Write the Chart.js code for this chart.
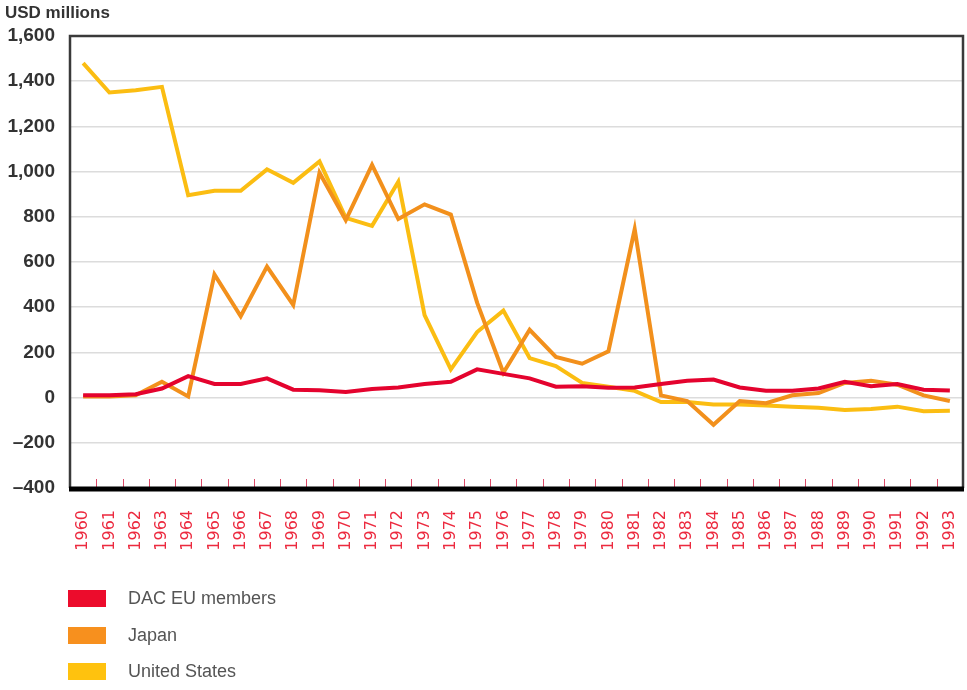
<!DOCTYPE html>
<html>
<head>
<meta charset="utf-8">
<script src="https://cdn.jsdelivr.net/npm/chart.js@4/dist/chart.umd.min.js"></script>
<style>
  body { margin: 0; background: #fff; }
  #wrap { position: relative; width: 967px; height: 690px; }
  #unit {
    position: absolute; left: 5px; top: 3px;
    font: bold 17px/20px "Liberation Sans", Arial, sans-serif;
    color: #333;
  }
  #legend { position: absolute; left: 68px; top: 590px; }
  .item { display: flex; align-items: center; height: 17px; margin-bottom: 19.5px; }
  .item span.box { width: 38px; height: 17px; margin-right: 22px; }
  .item span.txt {
    font: 18px/17px "Liberation Sans", Arial, sans-serif;
    color: #555;
  }
</style>
</head>
<body>
<div id="wrap">
  <canvas id="chart" width="967" height="690"></canvas>
  <div id="unit">USD millions</div>
  <div id="legend"></div>
</div>
<script>
const years = ['1960','1961','1962','1963','1964','1965','1966','1967','1968','1969',
  '1970','1971','1972','1973','1974','1975','1976','1977','1978','1979',
  '1980','1981','1982','1983','1984','1985','1986','1987','1988','1989',
  '1990','1991','1992','1993'];

const dacEU = [10, 10, 15, 40, 95, 60, 60, 85, 35, 33,
  25, 38, 45, 60, 70, 125, 105, 85, 48, 50,
  44, 45, 60, 75, 80, 45, 30, 30, 40, 70,
  50, 60, 35, 31];

const japan = [5, 5, 10, 70, 5, 545, 360, 580, 410, 995,
  785, 1030, 790, 855, 810, 420, 110, 300, 180, 150,
  205, 745, 10, -15, -120, -15, -25, 10, 20, 65,
  75, 57, 10, -15];

const unitedStates = [1480, 1350, 1360, 1375, 895, 915, 915, 1010, 950, 1045,
  795, 760, 955, 365, 125, 290, 385, 175, 140, 65,
  48, 30, -20, -20, -30, -30, -35, -40, -45, -55,
  -50, -40, -60, -58];

const yTicks = [-400, -200, 0, 200, 400, 600, 800, 1000, 1200, 1400, 1600];

const series = [
  { label: 'DAC EU members', data: dacEU, color: '#e4032e', swatch: '#ec0c2c' },
  { label: 'Japan', data: japan, color: '#f2901c', swatch: '#f7901e' },
  { label: 'United States', data: unitedStates, color: '#fbbd12', swatch: '#ffc20e' },
];

// frame + small red tick marks inside the plot
const framePlugin = {
  id: 'frame',
  afterDraw(chart) {
    const { ctx, chartArea: a, scales: { x } } = chart;
    ctx.save();
    const step = x.getPixelForValue(1) - x.getPixelForValue(0);
    ctx.strokeStyle = '#dd4a68';
    ctx.lineWidth = 1;
    for (let i = 1; i < years.length; i++) {
      const px = Math.round(x.getPixelForValue(i) - step / 2) + 0.5;
      ctx.beginPath();
      ctx.moveTo(px, a.bottom - 9);
      ctx.lineTo(px, a.bottom);
      ctx.stroke();
    }
    ctx.strokeStyle = '#3a3a3a';
    ctx.lineWidth = 2.5;
    ctx.beginPath();
    ctx.moveTo(a.left, a.bottom);
    ctx.lineTo(a.left, a.top);
    ctx.lineTo(a.right, a.top);
    ctx.lineTo(a.right, a.bottom);
    ctx.stroke();
    ctx.strokeStyle = '#000';
    ctx.lineWidth = 5;
    ctx.beginPath();
    ctx.moveTo(a.left - 1, a.bottom + 1);
    ctx.lineTo(a.right + 1, a.bottom + 1);
    ctx.stroke();
    ctx.restore();
  }
};

new Chart(document.getElementById('chart'), {
  type: 'line',
  data: {
    labels: years,
    datasets: series.map(s => ({
      label: s.label, data: s.data, borderColor: s.color, backgroundColor: s.color,
      borderWidth: 4, pointRadius: 0, tension: 0, borderJoinStyle: 'miter'
    }))
  },
  options: {
    responsive: false,
    animation: false,
    layout: { padding: { top: 36, right: 4, left: 0, bottom: 0 } },
    plugins: { legend: { display: false }, tooltip: { enabled: false } },
    scales: {
      x: {
        offset: true,
        grid: { display: false, drawTicks: false },
        border: { display: false },
        ticks: {
          autoSkip: false, maxRotation: 90, minRotation: 90, padding: 22,
          color: '#ec2a3f', font: { family: '"DejaVu Sans", sans-serif', size: 16 }
        },
        afterFit(scale) {
          scale.height = 202;
          scale.paddingLeft = 0;
          scale.paddingRight = 0;
        }
      },
      y: {
        min: -400, max: 1600,
        afterBuildTicks(scale) { scale.ticks = yTicks.map(v => ({ value: v })); },
        grid: { color: '#dcdcdc', lineWidth: 1.5, drawTicks: false },
        border: { display: false },
        ticks: {
          padding: 15, color: '#333',
          font: { family: '"Liberation Sans", Arial, sans-serif', size: 19, weight: 'bold' },
          callback: v => (v < 0 ? '\u2013' : '') + Math.abs(v).toLocaleString('en-US')
        },
        afterFit(scale) { scale.width = 70; }
      }
    }
  },
  plugins: [framePlugin]
});

const legend = document.getElementById('legend');
series.forEach(s => {
  const row = document.createElement('div');
  row.className = 'item';
  row.innerHTML = '<span class="box" style="background:' + s.swatch + '"></span><span class="txt">' + s.label + '</span>';
  legend.appendChild(row);
});
</script>
</body>
</html>
